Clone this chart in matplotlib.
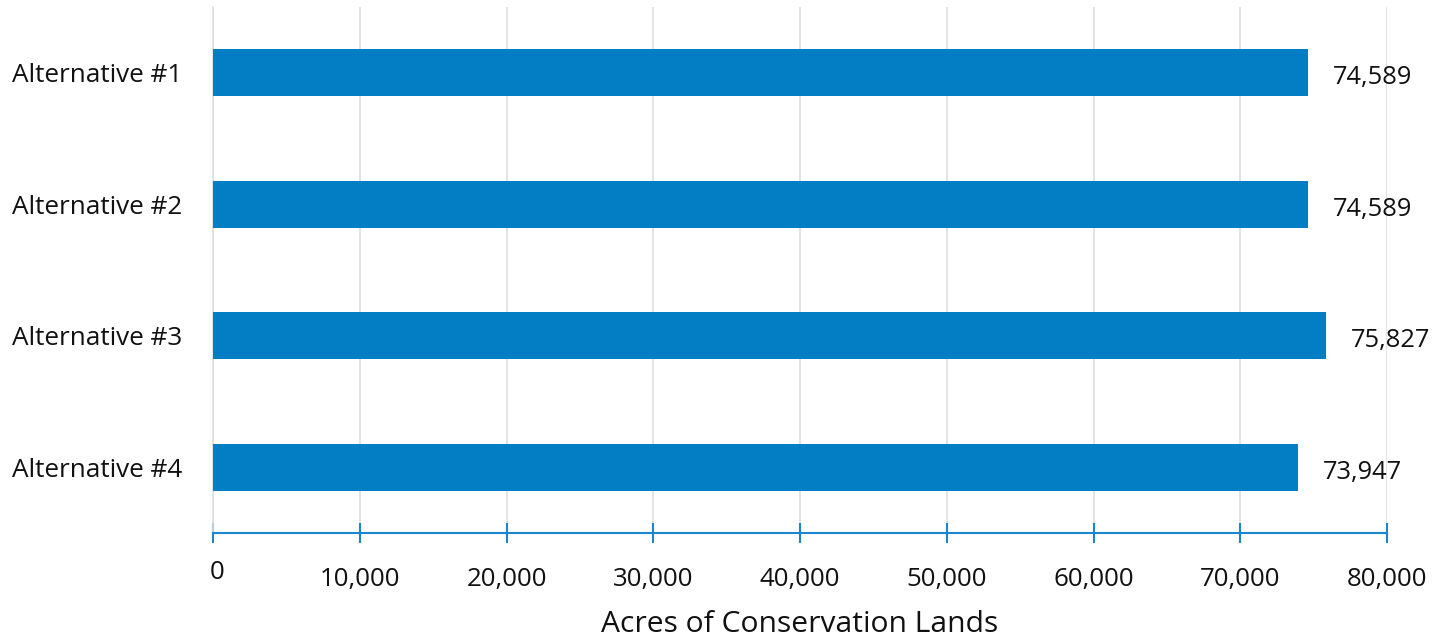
import matplotlib
matplotlib.use("Agg")
import matplotlib.pyplot as plt
import matplotlib.transforms as mtransforms
from matplotlib.ticker import FuncFormatter

CATEGORIES = ["Alternative #1", "Alternative #2", "Alternative #3", "Alternative #4"]
ACRES = [74589, 74589, 75827, 73947]
X_TICKS = [0, 10000, 20000, 30000, 40000, 50000, 60000, 70000, 80000]

BAR_COLOR = "#037EC4"
AXIS_COLOR = "#1A86CF"
GRID_COLOR = "#DEDEDE"
TEXT_COLOR = "#111111"

plt.rcParams["font.family"] = ["Open Sans", "DejaVu Sans"]

fig = plt.figure(figsize=(14.39, 6.38), dpi=100)
ax = fig.add_axes([213 / 1439, 1 - 533.3 / 638, 1174 / 1439, 526.6 / 638])

ypos = list(range(len(CATEGORIES)))
ax.barh(ypos, ACRES, height=0.357, color=BAR_COLOR, zorder=3)

for y, v in zip(ypos, ACRES):
    ax.annotate(f"{v:,}", xy=(v, y), xytext=(18, -3.5), textcoords="offset points",
                ha="left", va="center", fontsize=18.4, color=TEXT_COLOR)

ax.set_xlim(0, 80000)
ax.set_ylim(3.5, -0.5)
ax.set_yticks(ypos)
ax.set_yticklabels(CATEGORIES, fontsize=18.8, color=TEXT_COLOR)
ax.set_xticks(X_TICKS)
ax.xaxis.set_major_formatter(FuncFormatter(lambda v, _: f"{int(v):,}"))

for s in ("top", "right"):
    ax.spines[s].set_visible(False)
ax.spines["left"].set_color(GRID_COLOR)
ax.spines["left"].set_linewidth(1.2)
ax.spines["bottom"].set_color(AXIS_COLOR)
ax.spines["bottom"].set_linewidth(1.5)

ax.grid(axis="x", color=GRID_COLOR, linewidth=1.2, zorder=0)
ax.tick_params(axis="y", length=0, pad=22)
ax.tick_params(axis="x", direction="inout", length=15, width=1.5, color=AXIS_COLOR,
               labelsize=18.6, labelcolor=TEXT_COLOR, pad=17)

ax.set_xlabel("Acres of Conservation Lands", fontsize=21.6, color=TEXT_COLOR, labelpad=13)

# the zero label sits a little higher and to the right
fig.canvas.draw()
zero = ax.get_xticklabels()[0]
zero.set_transform(zero.get_transform() + mtransforms.ScaledTranslation(3 / 72, 5 / 72, fig.dpi_scale_trans))

fig.savefig("out.png", dpi=100)
